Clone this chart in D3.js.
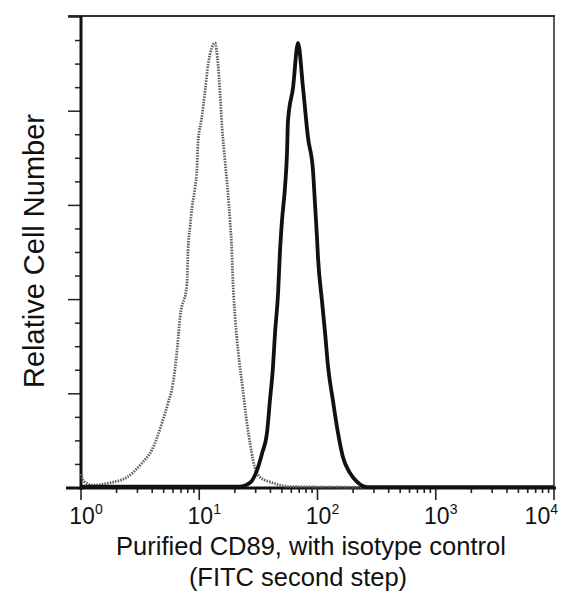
<!DOCTYPE html>
<html>
<head>
<meta charset="utf-8">
<script src="https://cdn.jsdelivr.net/npm/d3@7"></script>
<style>
  html, body { margin: 0; padding: 0; background: #fff; }
  svg { display: block; font-family: "Liberation Sans", Arial, Helvetica, sans-serif; }
</style>
</head>
<body>
<div id="chart"></div>
<script>
// --- data (intensity, relative count 0-100) ---
const isoIntensity = [1.0, 1.05, 1.26, 1.76, 2.45, 3.28, 3.98, 4.84, 5.44, 6.0, 6.49, 6.88, 7.88, 8.03, 8.35, 8.68, 9.21, 9.57, 9.75, 10.5, 11.2, 11.9, 13.6,
  14.4, 15.0, 15.6, 16.5, 17.5, 18.2, 18.9, 19.3, 20.1, 21.3, 23.4, 25.3, 26.9, 28.5, 32.7, 39.6, 58.5, 105, 1000, 10000];
const isoCount = [3.0, 1.5, 0.6, 1.1, 2.3, 5.3, 8.1, 13.8, 18.0, 22.2, 29.2, 36.2, 43.4, 50.4, 55.3, 59.5, 63.8, 68.0, 73.1, 78.6, 84.3, 90.0, 94.5,
  90.0, 83.7, 76.5, 69.5, 62.5, 56.8, 49.8, 43.4, 36.2, 29.2, 20.8, 13.8, 9.5, 5.9, 2.3, 1.3, 0.3, 0.2, 0.1, 0.1];

const cd89Intensity = [1.0, 22.1, 26.9, 30.8, 34.0, 37.4, 39.6, 42.0, 43.7, 46.4, 48.2, 50.1, 53.1, 55.2, 56.3, 62.1, 68.4,
  75.4, 83.1, 91.6, 95.2, 99.0, 101, 109, 116, 123, 135, 149, 164, 188, 216, 262, 10000];
const cd89Count = [0.3, 0.3, 1.1, 3.8, 7.4, 11.7, 18.6, 25.6, 32.8, 41.3, 50.4, 56.8, 63.8, 71.0, 78.0, 85.0, 94.5,
  85.0, 74.4, 67.4, 60.4, 53.2, 48.9, 39.8, 32.8, 25.6, 18.6, 11.7, 6.6, 3.2, 1.3, 0.2, 0.2];

const decadeExponents = ["0", "1", "2", "3", "4"];
const xTitleLines = ["Purified CD89, with isotype control", "(FITC second step)"];
const yTitle = "Relative Cell Number";

const W = 574, H = 597;
const L = 81, R = 554, T = 16, B = 488;

const svg = d3.select("#chart").append("svg").attr("width", W).attr("height", H);

const x = d3.scaleLog().domain([1, 10000]).range([L, R]);
const y = d3.scaleLinear().domain([0, 100]).range([B, T + 1]);

// frame: top + right are thin
svg.append("line").attr("x1", 68).attr("x2", R + 1).attr("y1", T).attr("y2", T)
  .attr("stroke", "#333").attr("stroke-width", 2);
svg.append("line").attr("x1", R).attr("x2", R).attr("y1", T).attr("y2", B)
  .attr("stroke", "#333").attr("stroke-width", 1.6);

// y axis (ticks only, no labels)
const yMinor = d3.range(0, 101, 5);
svg.append("g").selectAll("line").data(yMinor).join("line")
  .attr("x1", d => d % 20 === 0 ? L - 13 : L - 6).attr("x2", L)
  .attr("y1", d => y(d)).attr("y2", d => y(d))
  .attr("stroke", "#222").attr("stroke-width", 1.5);
svg.append("line").attr("x1", L).attr("x2", L).attr("y1", T).attr("y2", B + 2)
  .attr("stroke", "#111").attr("stroke-width", 3);

// x axis with log ticks
const xTicks = x.ticks();
svg.append("g").selectAll("line").data(xTicks).join("line")
  .attr("x1", d => x(d)).attr("x2", d => x(d))
  .attr("y1", B).attr("y2", d => Number.isInteger(Math.log10(d)) ? B + 12 : B + 5)
  .attr("stroke", "#222").attr("stroke-width", 1.6);
svg.append("line").attr("x1", 66).attr("x2", R + 2).attr("y1", B).attr("y2", B)
  .attr("stroke", "#111").attr("stroke-width", 3.2);

// tick labels 10^n
decadeExponents.forEach((e, i) => {
  const last = i === decadeExponents.length - 1;
  const t = svg.append("text")
    .attr("x", last ? 558 : x(Math.pow(10, +e)) + 5)
    .attr("y", 524)
    .attr("text-anchor", last ? "end" : "middle")
    .attr("font-size", 23).attr("fill", "#111");
  t.append("tspan").text("10");
  t.append("tspan").attr("dy", -10).attr("font-size", 14).text(e);
});

// histograms
const line = d3.line().x(d => x(d[0])).y(d => y(d[1])).curve(d3.curveMonotoneX);

svg.append("path")
  .datum(d3.zip(isoIntensity, isoCount))
  .attr("d", line)
  .attr("fill", "none").attr("stroke", "#5e5e5e").attr("stroke-width", 2.8)
  .attr("stroke-dasharray", "1.5,1.2");

svg.append("path")
  .datum(d3.zip(cd89Intensity, cd89Count))
  .attr("d", line)
  .attr("fill", "none").attr("stroke", "#111").attr("stroke-width", 3.8)
  .attr("stroke-linejoin", "round");

// axis titles
svg.append("text").attr("x", 311).attr("y", 555).attr("text-anchor", "middle")
  .attr("font-size", 25.5).attr("fill", "#111").text(xTitleLines[0]);
svg.append("text").attr("x", 298).attr("y", 586).attr("text-anchor", "middle")
  .attr("font-size", 25.5).attr("fill", "#111").text(xTitleLines[1]);
svg.append("text").attr("transform", "translate(44,251) rotate(-90)")
  .attr("text-anchor", "middle").attr("font-size", 29).attr("fill", "#111").text(yTitle);
</script>
</body>
</html>
